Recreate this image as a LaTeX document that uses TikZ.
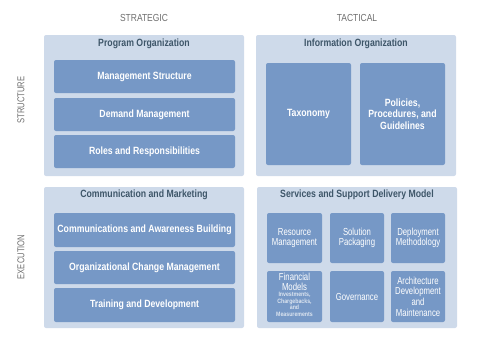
\documentclass[tikz,border=0pt]{standalone}
\usepackage{fontspec}
\setmainfont{Liberation Sans}
\newfontfamily\nar[FakeStretch=0.83]{Liberation Sans}
\newfontfamily\narr[FakeStretch=0.76]{Liberation Sans}
\definecolor{outerc}{HTML}{CEDAEA}
\definecolor{innerc}{HTML}{7698C6}
\definecolor{titlec}{HTML}{3E5669}
\definecolor{labelc}{HTML}{6E6E6E}
\definecolor{smallc}{HTML}{DCE5F0}
\begin{document}
\begin{tikzpicture}[x=1bp,y=-1bp,
  outerbox/.style={fill=outerc,rounded corners=2bp},
  innerbox/.style={fill=innerc,rounded corners=2bp},
  ttl/.style={text=titlec,font=\nar\bfseries\fontsize{10.5bp}{11bp}\selectfont,inner sep=0},
  itxt/.style={text=white,font=\nar\bfseries\fontsize{10.5bp}{11.5bp}\selectfont,align=center,inner sep=0},
  stxt/.style={text=white,font=\narr\fontsize{10.2bp}{10.7bp}\selectfont,align=center,inner sep=0},
  lbl/.style={text=labelc,font=\nar\fontsize{10.2bp}{11bp}\selectfont,inner sep=0},
  rlbl/.style={text=labelc,font=\narr\fontsize{10bp}{11bp}\selectfont,inner sep=0,rotate=90}]
\useasboundingbox (0,0) rectangle (493,342);
% column and row labels
\node[lbl] (strat) at (144,18) {STRATEGIC};
\node[lbl] (tact) at (357,18) {TACTICAL};
\node[rlbl] (struct) at (21,100) {STRUCTURE};
\node[rlbl] (exec) at (21,257) {EXECUTION};
% outer boxes
\fill[outerbox] (44,35) rectangle (244,176);
\fill[outerbox] (256,35) rectangle (456,176);
\fill[outerbox] (44,187) rectangle (244,328);
\fill[outerbox] (257,187) rectangle (457,328);
% titles
\node[ttl] (po) at (144,43.5) {Program Organization};
\node[ttl] (io) at (356,43.5) {Information Organization};
\node[ttl] (cm) at (144,194.5) {Communication and Marketing};
\node[ttl] (ss) at (357,194.5) {Services and Support Delivery Model};
% Program Organization
\fill[innerbox] (54,60) rectangle (235,93);
\node[itxt] (ms) at (144.5,76.5) {Management Structure};
\fill[innerbox] (54,98) rectangle (235,131);
\node[itxt] (dm) at (144.5,114.5) {Demand Management};
\fill[innerbox] (54,135) rectangle (235,168);
\node[itxt] (rr) at (144.5,151.5) {Roles and Responsibilities};
% Information Organization
\fill[innerbox] (266,63) rectangle (351,165);
\node[itxt] (tx) at (308.5,114) {Taxonomy};
\fill[innerbox] (360,63) rectangle (445,165);
\node[itxt] (pp) at (402.5,114) {Policies,\\Procedures, and\\Guidelines};
% Communication and Marketing
\fill[innerbox] (54,213) rectangle (235,247);
\node[itxt] (ca) at (144.5,230) {Communications and Awareness Building};
\fill[innerbox] (54,251) rectangle (235,284);
\node[itxt] (oc) at (144.5,267.5) {Organizational Change Management};
\fill[innerbox] (54,288) rectangle (235,322);
\node[itxt] (td) at (144.5,305) {Training and Development};
% Services and Support Delivery Model
\fill[innerbox] (267,213) rectangle (322,263);
\node[stxt] (rm) at (294.5,238) {Resource\\Management};
\fill[innerbox] (330,213) rectangle (384,263);
\node[stxt] (sp) at (357,238) {Solution\\Packaging};
\fill[innerbox] (391,213) rectangle (445,263);
\node[stxt] (dmm) at (418,238) {Deployment\\Methodology};
\fill[innerbox] (267,271) rectangle (322,322);
\node[stxt,font=\narr\fontsize{10.2bp}{9.5bp}\selectfont] (fm) at (294.5,282) {Financial\\Models};
\node[stxt,text=smallc,font=\nar\bfseries\fontsize{6.3bp}{6.6bp}\selectfont] (fms) at (294.5,304.5) {Investments,\\Chargebacks,\\and\\Measurements};
\fill[innerbox] (330,271) rectangle (384,322);
\node[stxt] (gv) at (357,296.5) {Governance};
\fill[innerbox] (391,271) rectangle (445,322);
\node[stxt] (ad) at (418,296.5) {Architecture\\Development\\and\\Maintenance};
\end{tikzpicture}
\end{document}
